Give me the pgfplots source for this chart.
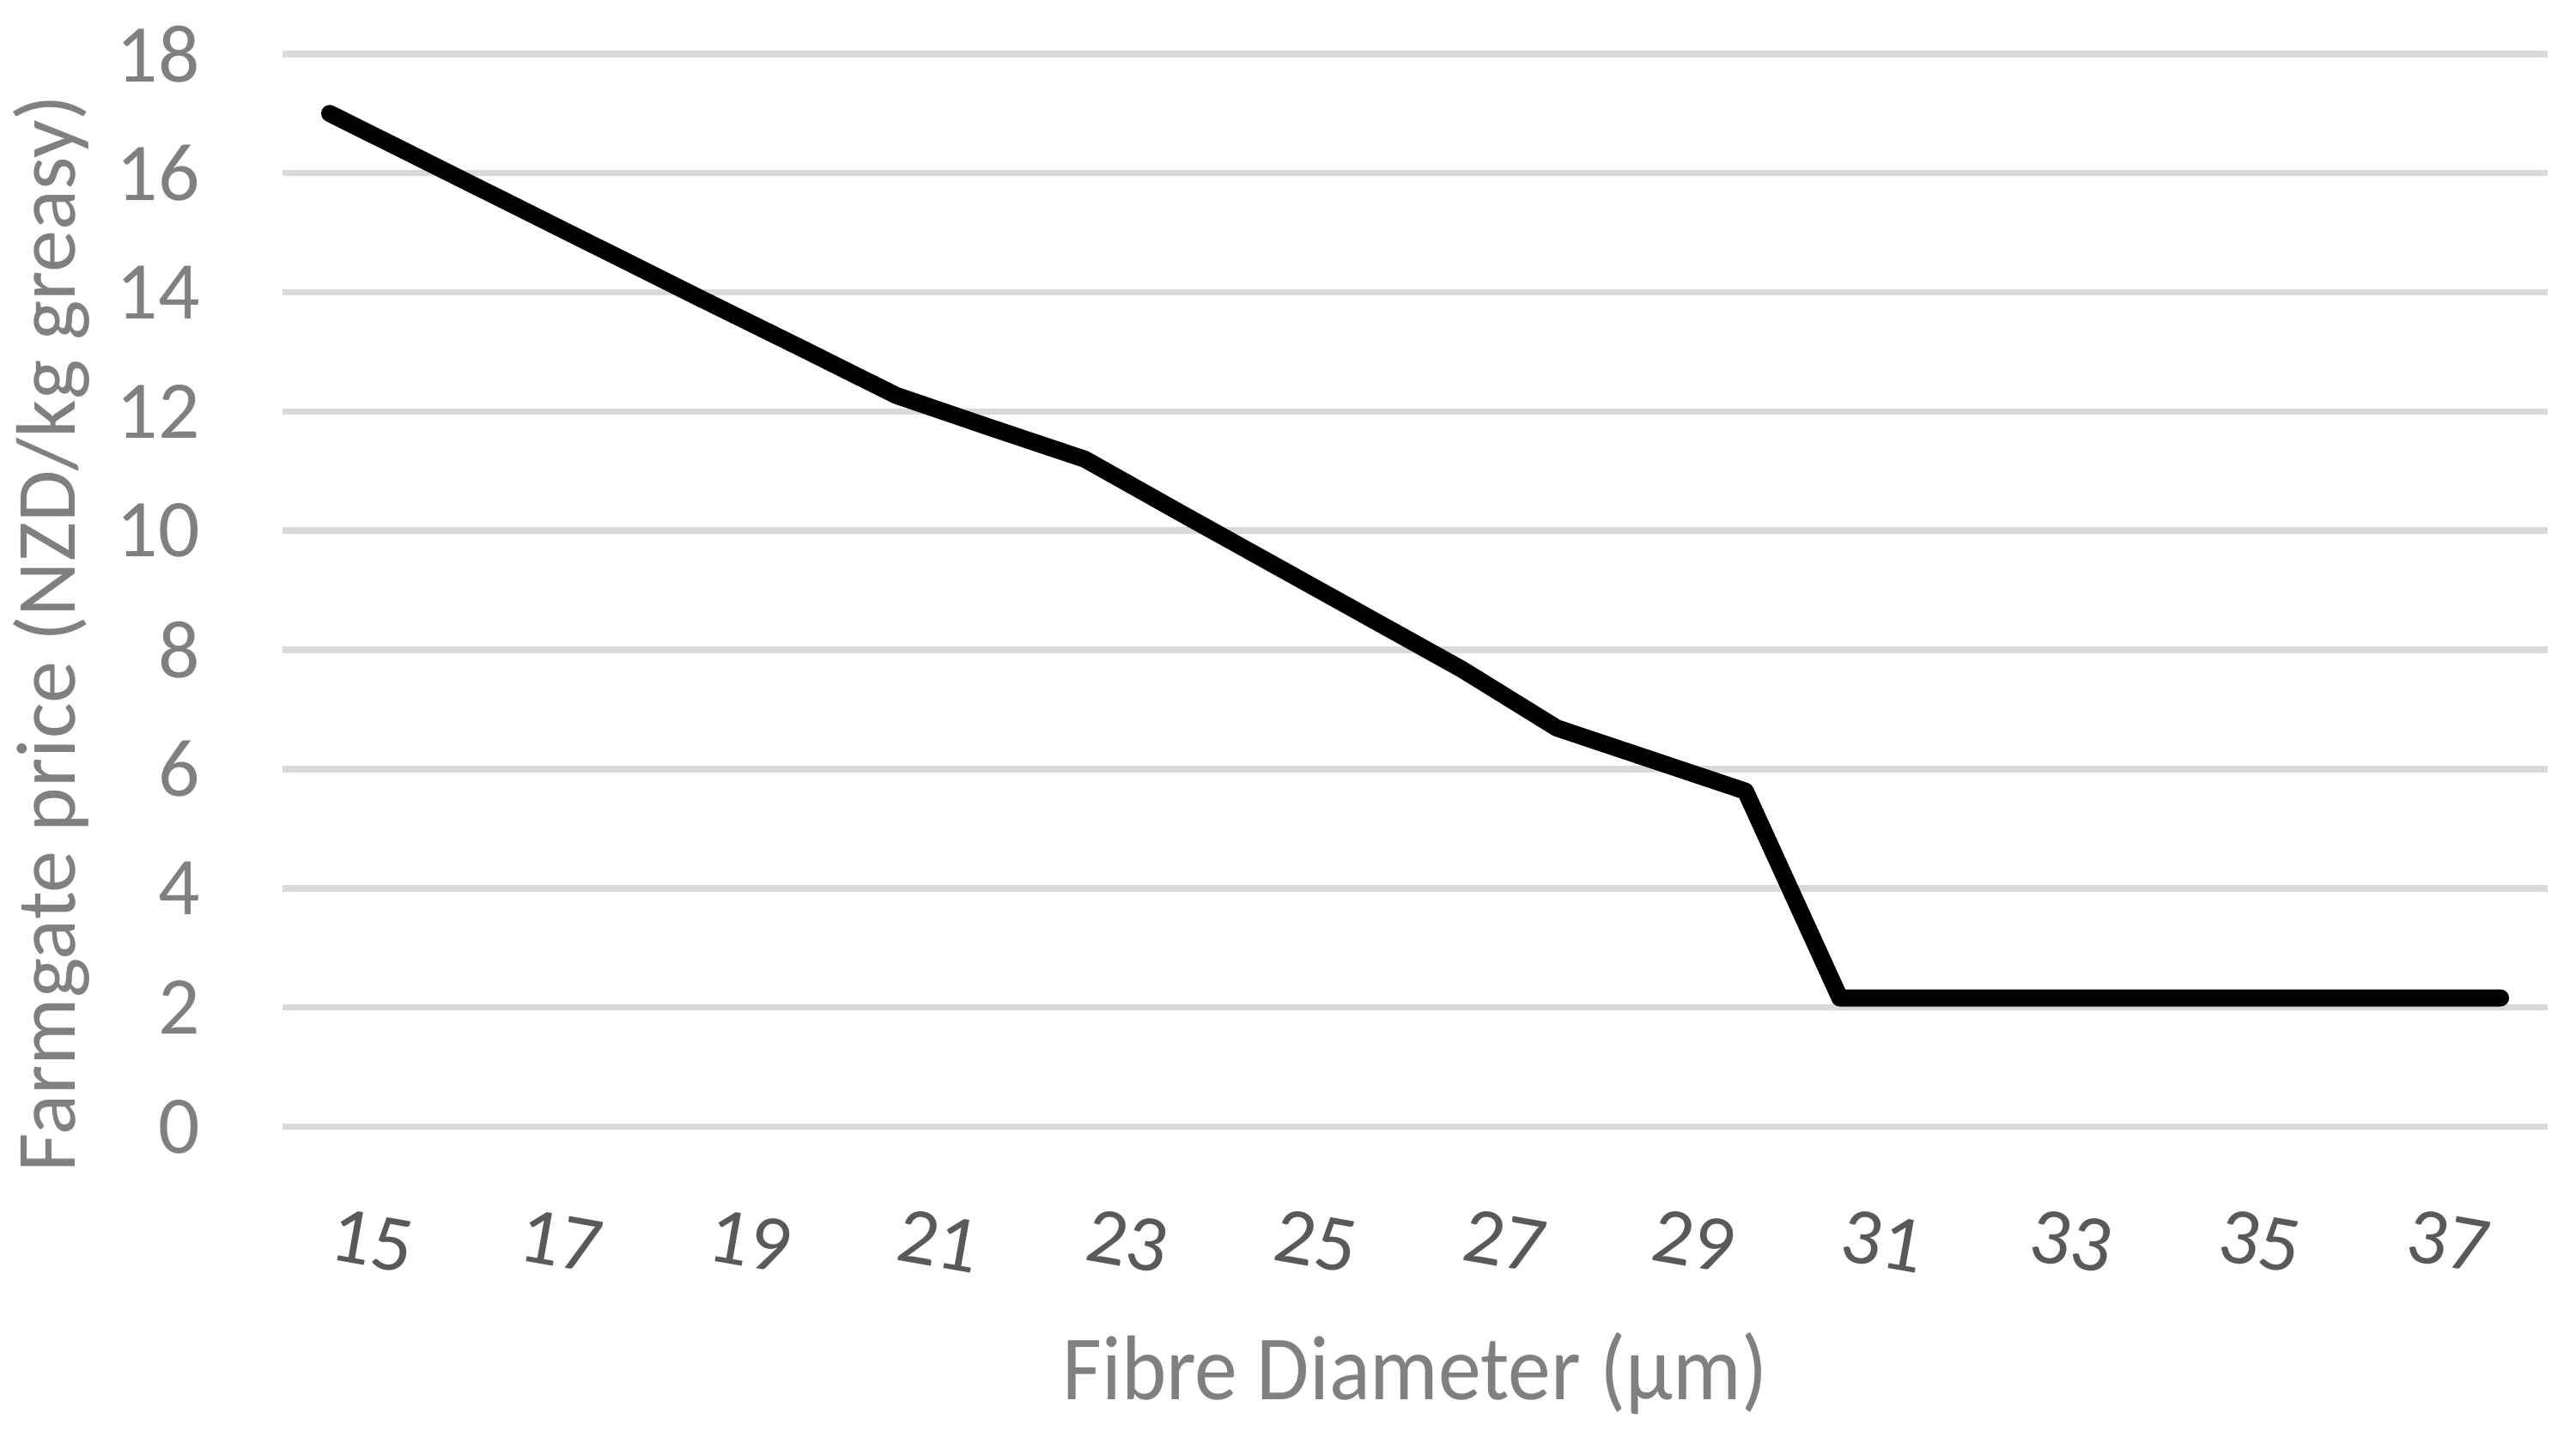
\documentclass[border=0pt]{standalone}
\usepackage{fontspec}
\setmainfont{Carlito}
\newfontfamily\narrowfont[FakeStretch=0.93]{Carlito}
\usepackage{graphicx}
\usepackage{pgfplots}
\pgfplotsset{compat=1.18}
\definecolor{gridgray}{HTML}{D9D9D9}
\definecolor{labgray}{HTML}{808080}
\definecolor{tickdark}{HTML}{595959}
\begin{document}
\begin{tikzpicture}
\begin{axis}[name=ax, scale only axis, width=689.6pt, height=326.7pt,
  xmin=14.5, xmax=38.5, ymin=0, ymax=18,
  xtick={15,17,...,37}, ytick={0,2,...,18},
  /pgf/number format/assume math mode=true,
  ymajorgrids, grid style={draw=gridgray, line width=2pt},
  axis line style={draw=none}, major tick length=0pt, tick style={draw=none},
  yticklabel style={font=\fontsize{25}{30}\selectfont, text=labgray, anchor=east, inner sep=0pt, xshift=-25pt},
  xticklabel style={font=\fontsize{24.5}{28}\selectfont, text=tickdark, anchor=center, inner sep=0pt, xshift=13pt, yshift=-34.8pt, rotate=-10},
  every axis x label/.style={at={(axis description cs:0.5,-0.2541)}, anchor=base, font=\narrowfont\fontsize{28}{34}\selectfont, text=labgray},
  every axis y label/.style={at={(axis description cs:-0.0916,0.4598)}, rotate=90, anchor=base, font=\fontsize{25.7}{30}\selectfont, text=labgray},
  xlabel={Fibre Diameter (μm)},
  ylabel={Farmgate price (NZD/kg greasy)},
]
\addplot[black, line width=5.2pt, line cap=round, line join=round] coordinates {
(15,17.00) (16,16.21) (17,15.42) (18,14.63) (19,13.84) (20,13.06) (21,12.27)
(22,11.73) (23,11.20) (24,10.31) (25,9.43) (26,8.55) (27,7.67) (28,6.69)
(29,6.16) (30,5.63) (31,2.16) (32,2.16) (33,2.16) (34,2.16) (35,2.16)
(36,2.16) (37,2.16) (38,2.16)
};
\end{axis}
\pgfresetboundingbox
\path[use as bounding box] ([shift={(-86pt,-92.4pt)}]ax.south west) rectangle ([shift={(8.6pt,16.4pt)}]ax.north east);
\end{tikzpicture}
\end{document}
